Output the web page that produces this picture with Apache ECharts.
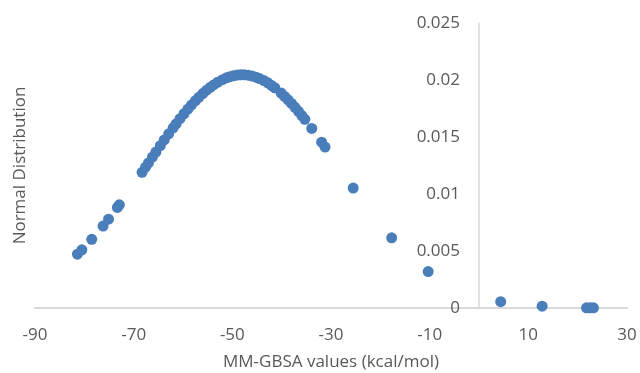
<!DOCTYPE html>
<html>
<head>
<meta charset="utf-8">
<script src="https://cdn.jsdelivr.net/npm/echarts@6/dist/echarts.min.js"></script>
<style>
  html, body { margin: 0; padding: 0; background: #fff; }
  #chart { width: 640px; height: 373px; }
</style>
</head>
<body>
<!-- scatter of MM-GBSA values vs normal distribution -->
<div id="chart"></div>
<script>
// MM-GBSA values (kcal/mol)
const mmgbsa = [
  -81.4, -80.5, -78.5, -76.2, -75.1, -73.3, -72.9,
  -68.3, -67.6, -67.0, -66.2, -65.5, -64.6, -63.8, -62.9, -62.0, -61.4,
  -60.6, -59.8, -59.0, -58.3, -57.5, -56.8, -56.0, -55.2,
  -54.5, -53.8, -53.0, -52.0, -51.2, -50.5, -49.8, -49.0, -48.3, -47.6,
  -46.8, -46.0, -45.2, -44.5, -43.6, -42.8, -42.0, -41.4,
  -40.1, -39.4, -38.7, -38.0, -37.3, -36.6, -35.9, -35.3,
  -33.9, -31.9, -31.2, -25.5, -17.7, -10.3, 4.4, 12.8, 21.8, 22.5, 23.2
]
// normal distribution value for each point
const normDist = [
  0.00472, 0.00510, 0.00602, 0.00719, 0.00779, 0.00882, 0.00905,
  0.01190, 0.01235, 0.01273, 0.01324, 0.01368, 0.01424, 0.01474, 0.01528, 0.01581, 0.01616,
  0.01661, 0.01704, 0.01745, 0.01780, 0.01817, 0.01848, 0.01881, 0.01911,
  0.01935, 0.01957, 0.01980, 0.02003, 0.02019, 0.02029, 0.02037, 0.02043, 0.02046, 0.02046,
  0.02042, 0.02035, 0.02025, 0.02013, 0.01995, 0.01975, 0.01951, 0.01932,
  0.01885, 0.01856, 0.01826, 0.01794, 0.01760, 0.01725, 0.01688, 0.01655,
  0.01575, 0.01455, 0.01412, 0.01052, 0.00616, 0.00320, 0.00055, 0.00016, 0.00002, 0.00002, 0.00002
]
// tick labels
const xTicks = [-90, -70, -50, -30, -10, 10, 30]
const yTicks = [0, 0.005, 0.01, 0.015, 0.02, 0.025]

const points = mmgbsa.map((v, i) => [v, normDist[i]])

const textColor = '#595959'
const lineColor = '#d9d9d9'
const font = '"Open Sans", sans-serif'

// grid geometry, the y axis sits where x = 0
const gridLeft = 35
const gridRight = 13
const plotWidth = 640 - gridLeft - gridRight
const zeroOffset = plotWidth * (0 - xTicks[0]) / (xTicks[xTicks.length - 1] - xTicks[0])

let myChart = echarts.init(document.getElementById('chart'))
myChart.setOption({
  animation: false,
  backgroundColor: '#fff',
  grid: {
    left: gridLeft,
    right: gridRight,
    top: 23,
    bottom: 65,
    containLabel: false,
    outerBoundsMode: 'none'
  },
  xAxis: {
    type: 'value',
    min: xTicks[0],
    max: xTicks[xTicks.length - 1],
    name: 'MM-GBSA values (kcal/mol)',
    nameLocation: 'middle',
    nameGap: 46,
    nameTextStyle: { color: textColor, fontSize: 17, fontFamily: font },
    axisLine: { show: true, onZero: false, lineStyle: { color: lineColor, width: 2 } },
    axisTick: { show: false },
    splitLine: { show: false },
    axisLabel: {
      customValues: xTicks,
      color: textColor,
      fontSize: 17,
      fontFamily: font,
      margin: 19
    }
  },
  yAxis: {
    type: 'value',
    min: yTicks[0],
    max: yTicks[yTicks.length - 1],
    interval: 0.005,
    offset: -zeroOffset,
    name: 'Normal Distribution',
    nameLocation: 'middle',
    nameGap: zeroOffset + 6,
    nameTextStyle: { color: textColor, fontSize: 17, fontFamily: font },
    axisLine: { show: true, onZero: false, lineStyle: { color: lineColor, width: 1.5 } },
    axisTick: { show: false },
    splitLine: { show: false },
    axisLabel: {
      customValues: yTicks,
      color: textColor,
      fontSize: 17,
      fontFamily: font,
      margin: 19
    }
  },
  series: [{
    type: 'scatter',
    symbol: 'circle',
    symbolSize: 11,
    itemStyle: { color: '#4a7ebb', opacity: 1 },
    data: points
  }]
})
window.addEventListener('resize', function () {
  myChart.resize()
})
</script>
</body>
</html>
